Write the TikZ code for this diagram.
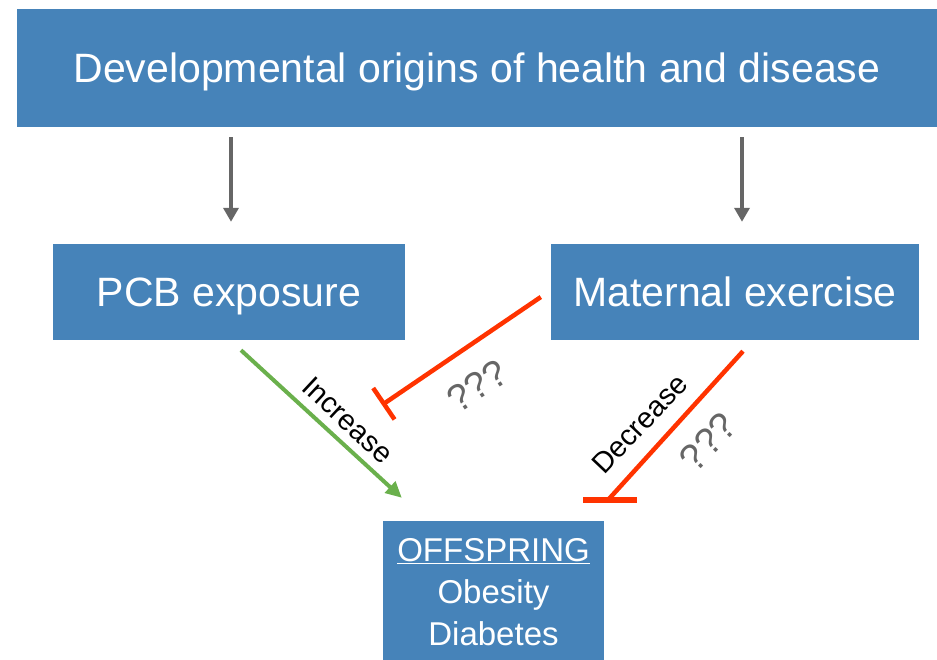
\documentclass[tikz,border=0pt]{standalone}
\usepackage{fontspec}
\setmainfont{Liberation Sans}
\usetikzlibrary{arrows.meta,calc}
\definecolor{boxblue}{RGB}{70,131,185}
\definecolor{arrgray}{RGB}{102,102,102}
\definecolor{incgreen}{RGB}{106,176,76}
\definecolor{inhred}{RGB}{255,51,0}
\begin{document}
\begin{tikzpicture}[x=1pt,y=-1pt,
  box/.style={fill=boxblue, text=white, inner sep=0pt, font=\fontsize{41}{48}\selectfont, text height=29pt, text depth=0pt},
  grayarr/.style={draw=arrgray, line width=4pt, -{Triangle[width=15pt,length=14pt]}},
  incarr/.style={draw=incgreen, line width=4pt, -{Triangle[width=15pt,length=16pt]}},
  inhline/.style={draw=inhred, line width=4.5pt},
  lbl/.style={font=\fontsize{29}{30}\selectfont, inner sep=0pt},
  qlbl/.style={font=\fontsize{38}{40}\selectfont, text=arrgray, inner sep=0pt}]
\useasboundingbox (0,0) rectangle (937,659);
\node[box, minimum width=920pt, minimum height=118pt] (top) at (477,68) {Developmental origins of health and disease};
\node[box, minimum width=352pt, minimum height=96pt] (pcb) at (229,292) {PCB exposure};
\node[box, minimum width=368pt, minimum height=96pt] (mat) at (735,292) {Maternal exercise};
\node[fill=boxblue, text=white, inner sep=0pt, minimum width=221pt, minimum height=142pt, align=center, font=\fontsize{33}{42}\selectfont] (off) at (493.5,592)
  {\underline{OFFSPRING}\\Obesity\\Diabetes};
\coordinate (inh1) at (382,405);
\coordinate (inh2) at (608,500);
\draw[grayarr] ($(top.south -| pcb.north)+(2,10)$) -- ($(pcb.north)+(2,-22)$);
\draw[grayarr] ($(top.south -| mat.north)+(7,10)$) -- ($(mat.north)+(7,-22)$);
\draw[incarr] ($(pcb.south)+(12,10)$) -- ($(off.north west)+(19,-23)$);
\draw[inhline, -{Bar[width=38pt]}] ($(mat.west)+(-10,5)$) -- (inh1);
\draw[inhline] ($(mat.south)+(8,11)$) -- (inh2);
\draw[inhline, line width=6pt] ($(inh2)+(-25,0)$) -- ($(inh2)+(29,0)$);
\node[lbl, rotate=-43] (inc) at (348,420) {Increase};
\node[lbl, rotate=46.6] (dec) at (640,424) {Decrease};
\node[qlbl, rotate=34] (q1) at (477,386) {???};
\node[qlbl, rotate=46] (q2) at (708,442) {???};
\end{tikzpicture}
\end{document}
